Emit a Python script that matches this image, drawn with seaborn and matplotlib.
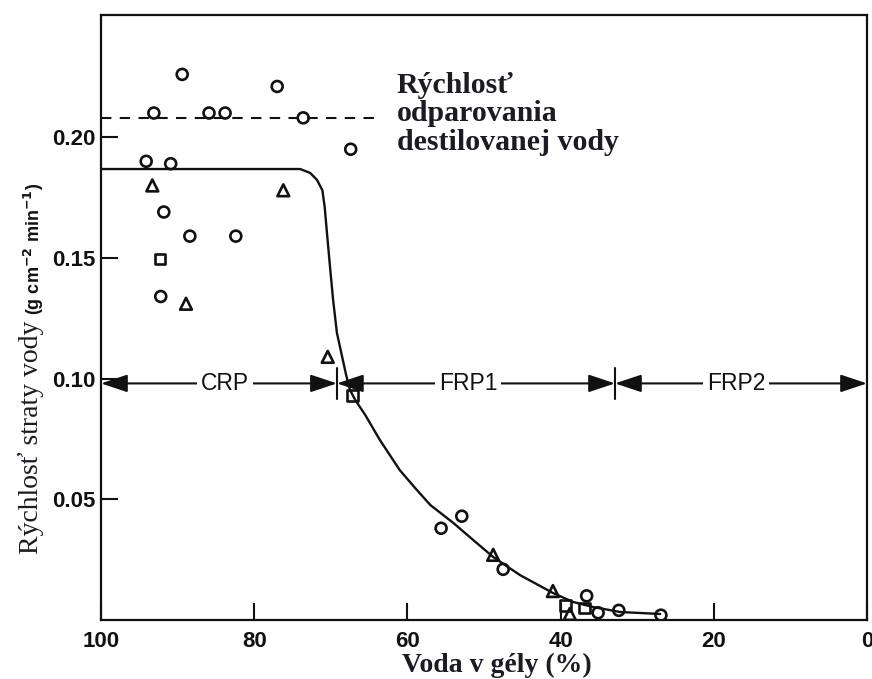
import numpy as np
import pandas as pd
import seaborn as sns
import matplotlib.pyplot as plt

# measured points (water in gel %, evaporation rate g cm-2 min-1)
circles_x = [89.4, 77.0, 93.1, 85.9, 83.8, 73.6, 67.4, 94.1, 90.9, 91.8, 88.4, 82.4, 92.2,
             55.6, 52.9, 47.5, 36.6, 35.1, 32.4, 26.9]
circles_y = [0.226, 0.221, 0.210, 0.210, 0.210, 0.208, 0.195, 0.190, 0.189, 0.169, 0.159, 0.159, 0.134,
             0.038, 0.043, 0.021, 0.010, 0.003, 0.004, 0.002]
triangles_x = [93.3, 76.2, 88.9, 70.4, 48.8, 41.0, 38.8]
triangles_y = [0.180, 0.178, 0.131, 0.109, 0.027, 0.012, 0.0025]
squares_x = [92.3, 67.2, 39.4, 36.9]
squares_y = [0.1495, 0.093, 0.006, 0.005]

# drying curve
curve_x = [100, 74.0, 72.7, 71.8, 71.1, 70.8, 70.5, 70.1, 69.7, 69.2, 68.0, 67.5, 66.8, 65.5,
           63.6, 61.0, 59.0, 57.0, 54.0, 51.4, 48.8, 45.3, 41.0, 38.4, 35.8, 32.2, 27.0]
curve_y = [0.1868, 0.1868, 0.1852, 0.1823, 0.178, 0.1711, 0.1603, 0.1462, 0.1326, 0.1189, 0.1015,
           0.0953, 0.0911, 0.0849, 0.0746, 0.0621, 0.0547, 0.0476, 0.0402, 0.0331, 0.0261, 0.0186,
           0.0112, 0.0075, 0.0054, 0.0033, 0.0025]

# distilled water evaporation rate
water_rate = 0.208
water_x = [100, 63.6]

# drying periods
periods = ["CRP", "FRP1", "FRP2"]
period_bounds = [100, 69.2, 32.9, 0]
period_label_x = [83.8, 52.1, 17.1]
period_y = 0.098

xticks = [100, 80, 60, 40, 20, 0]
yticks = [0.05, 0.10, 0.15, 0.20]
ytick_labels = ["0.05", "0.10", "0.15", "0.20"]

sns.set_theme(style="ticks")
plt.rcParams['font.family'] = ['Liberation Sans', 'DejaVu Sans']

fig = plt.figure(figsize=(8.72, 6.79), dpi=100)
ax = fig.add_axes([101 / 872, 59 / 679, 766 / 872, 605 / 679])

ink = "#111111"
txt = "#1c1a24"

curve = pd.DataFrame({"x": curve_x, "y": curve_y})
sns.lineplot(data=curve, x="x", y="y", sort=False, estimator=None, color=ink, lw=1.7, ax=ax)
ax.plot(water_x, [water_rate, water_rate], color=ink, lw=1.5, ls=(0, (5, 4)))

for xs, ys, m, s in [(circles_x, circles_y, "o", 62), (triangles_x, triangles_y, "^", 72),
                     (squares_x, squares_y, "s", 60)]:
    sns.scatterplot(x=xs, y=ys, marker=m, s=s, facecolor="none", edgecolor=ink,
                    linewidth=1.9, ax=ax, zorder=3)

# period arrows
for i in range(3):
    ax.annotate("", xy=(period_bounds[i + 1], period_y), xytext=(period_bounds[i], period_y),
                arrowprops=dict(arrowstyle="<|-|>,head_length=0.9,head_width=0.3", color=ink,
                                lw=1.5, shrinkA=0, shrinkB=0, mutation_scale=18))
    ax.text(period_label_x[i], period_y, periods[i], ha="center", va="center", fontsize=16.5,
            color=ink, bbox=dict(facecolor="white", edgecolor="none", pad=3), zorder=4)
for b in period_bounds[1:3]:
    ax.plot([b, b], [0.0915, 0.1045], color=ink, lw=1.5)

# legend text for dashed line
leg_lines = ["Rýchlosť", "odparovania", "destilovanej vody"]
leg_y = [0.2183, 0.2067, 0.1947]
for s_, y_ in zip(leg_lines, leg_y):
    ax.text(61.4, y_, s_, fontsize=21.5, fontweight="bold", family="Liberation Serif",
            color=txt, va="baseline", ha="left")

ax.set_xlim(100, 0)
ax.set_ylim(0, 0.2506)
ax.set_xticks(xticks)
ax.set_xticklabels([str(t) for t in xticks])
ax.set_yticks(yticks)
ax.set_yticklabels(ytick_labels)
ax.tick_params(direction="in", length=12, width=1.5, labelsize=16, color=ink, labelcolor=ink)
ax.tick_params(axis="x", pad=8)
ax.tick_params(axis="y", pad=4)
for lab in ax.get_xticklabels() + ax.get_yticklabels():
    lab.set_fontweight("bold")
for sp in ax.spines.values():
    sp.set_linewidth(1.6)
    sp.set_color(ink)
ax.set_xlabel("")
ax.set_ylabel("")

ax.text(0.517, -0.086, "Voda v gély (%)", transform=ax.transAxes, ha="center", va="baseline",
        fontsize=20, fontweight="bold", family="Liberation Serif", color=txt)
ax.text(-0.092, 0.302, "Rýchlosť straty vody", transform=ax.transAxes, rotation=90,
        ha="center", va="center", fontsize=20, family="Liberation Serif", color=txt)
ax.text(-0.088, 0.614, r"(g cm$^{\mathbf{-2}}$ min$^{\mathbf{-1}}$)", transform=ax.transAxes,
        rotation=90, ha="center", va="center", fontsize=13, fontweight="bold", color=ink)

fig.savefig("out.png", dpi=100)
